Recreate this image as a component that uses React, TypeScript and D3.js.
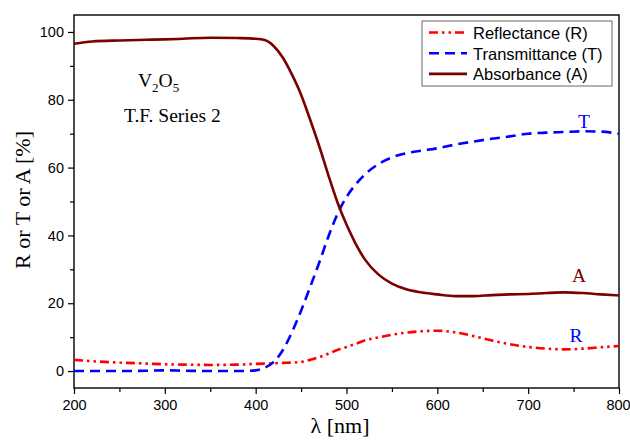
import React, { useEffect, useRef } from 'react';
import * as d3 from 'd3';

// wavelength grid [nm]
const lambda = [200, 220, 250, 280, 300, 320, 350, 380, 400, 410, 420, 430, 440, 450, 460, 470, 480, 490, 500, 510, 520, 535, 550, 565, 580, 600, 620, 640, 660, 680, 700, 720, 740, 760, 780, 800];

// values in %
const reflectance = [3.3, 2.9, 2.5, 2.2, 2.0, 1.9, 1.8, 1.9, 2.1, 2.2, 2.3, 2.4, 2.5, 2.7, 3.3, 4.1, 5.1, 6.2, 7.1, 8.0, 9.0, 9.9, 10.7, 11.3, 11.7, 11.9, 11.4, 10.3, 9.0, 7.9, 7.1, 6.6, 6.4, 6.6, 7.0, 7.4];
const transmittance = [0, 0, 0, 0.1, 0.2, 0.1, 0, 0, 0.2, 1.0, 2.7, 6.2, 11.5, 17.8, 24.8, 32.0, 39.6, 46.3, 51.3, 55.0, 57.9, 61.0, 63.0, 64.2, 64.9, 65.7, 66.8, 67.7, 68.5, 69.2, 70.0, 70.3, 70.5, 70.7, 70.6, 70.0];
const absorbance = [96.5, 97.2, 97.5, 97.7, 97.8, 98.0, 98.3, 98.2, 98.0, 97.6, 95.8, 92.4, 87.4, 81.5, 74.1, 66.3, 57.8, 49.8, 43.2, 37.6, 33.0, 28.5, 25.8, 24.2, 23.3, 22.6, 22.1, 22.1, 22.4, 22.6, 22.7, 23.0, 23.2, 23.0, 22.6, 22.3];

const xTicks = [200, 300, 400, 500, 600, 700, 800];
const xMinor = [250, 350, 450, 550, 650, 750];
const yTicks = [0, 20, 40, 60, 80, 100];
const yMinor = [10, 30, 50, 70, 90];

const seriesNames = ['Reflectance (R)', 'Transmittance (T)', 'Absorbance (A)'];

export default function App() {
  const ref = useRef<SVGSVGElement>(null);

  useEffect(() => {
    const svg = d3.select(ref.current);
    svg.selectAll('*').remove();

    const left = 74, right = 619, top = 15, bottom = 388;
    const x = d3.scaleLinear().domain([200, 800]).range([left, right]);
    const y = d3.scaleLinear().domain([-5, 105]).range([bottom, top]);

    const sansFont = '"Liberation Sans", Arial, sans-serif';
    const serifFont = '"Liberation Serif", "Times New Roman", serif';

    // axes
    const gx = svg.append('g').attr('transform', `translate(0,${bottom})`)
      .call(d3.axisBottom(x).tickValues(xTicks).tickSize(6).tickPadding(6).tickSizeOuter(0).tickFormat(d3.format('d')));
    svg.append('g').attr('transform', `translate(0,${bottom})`)
      .call(d3.axisBottom(x).tickValues(xMinor).tickSize(4).tickSizeOuter(0).tickFormat(() => ''));
    const gy = svg.append('g').attr('transform', `translate(${left},0)`)
      .call(d3.axisLeft(y).tickValues(yTicks).tickSize(6).tickPadding(4).tickSizeOuter(0));
    svg.append('g').attr('transform', `translate(${left},0)`)
      .call(d3.axisLeft(y).tickValues(yMinor).tickSize(4).tickSizeOuter(0).tickFormat(() => ''));

    svg.selectAll('.domain').remove();
    svg.selectAll('.tick line').attr('stroke', '#000').attr('stroke-width', 1.2);
    [gx, gy].forEach(g => g.selectAll('text')
      .attr('font-family', sansFont).attr('font-size', 14.5).attr('fill', '#000'));
    // keep the last x label inside the picture
    gx.selectAll('text').filter(d => d === 800).attr('dx', -1);

    // frame
    svg.append('rect')
      .attr('x', left).attr('y', top).attr('width', right - left).attr('height', bottom - top)
      .attr('fill', 'none').attr('stroke', '#000').attr('stroke-width', 1.4);

    const series = [
      { v: reflectance, color: '#ff0000', dash: '9,4,2.5,4,2.5,4' },
      { v: transmittance, color: '#0000ff', dash: '10,6' },
      { v: absorbance, color: '#7b0000', dash: null },
    ];

    const line = d3.line<number>()
      .x((d, i) => x(lambda[i]))
      .y(d => y(d))
      .curve(d3.curveMonotoneX);

    series.forEach(s => {
      const p = svg.append('path')
        .attr('d', line(s.v))
        .attr('fill', 'none')
        .attr('stroke', s.color)
        .attr('stroke-width', 2.6);
      if (s.dash) p.attr('stroke-dasharray', s.dash);
    });

    // legend
    const lg = svg.append('g');
    lg.append('rect').attr('x', 422).attr('y', 21).attr('width', 190).attr('height', 65)
      .attr('fill', '#fff').attr('stroke', '#666').attr('stroke-width', 1);
    series.forEach((s, i) => {
      const cy = 32.5 + i * 20.7;
      const l = lg.append('line').attr('x1', 429).attr('x2', 467).attr('y1', cy).attr('y2', cy)
        .attr('stroke', s.color).attr('stroke-width', 2.6);
      if (s.dash) l.attr('stroke-dasharray', s.dash);
      lg.append('text').attr('x', 473).attr('y', cy + 6.5)
        .attr('font-family', sansFont).attr('font-size', 16.5).attr('fill', '#000')
        .text(seriesNames[i]);
    });

    // axis titles
    svg.append('text')
      .attr('transform', 'translate(30,200) rotate(-90)')
      .attr('text-anchor', 'middle')
      .attr('font-family', serifFont).attr('font-size', 22).attr('fill', '#000')
      .text('R or T or A [%]');
    svg.append('text')
      .attr('x', 340).attr('y', 433)
      .attr('text-anchor', 'middle')
      .attr('font-family', serifFont).attr('font-size', 22).attr('fill', '#000')
      .text('λ [nm]');

    // annotations
    const v2o5 = svg.append('text').attr('x', 138).attr('y', 87)
      .attr('font-family', serifFont).attr('font-size', 19.5).attr('fill', '#000');
    v2o5.append('tspan').text('V');
    v2o5.append('tspan').attr('dy', 5).attr('font-size', 13).text('2');
    v2o5.append('tspan').attr('dy', -5).text('O');
    v2o5.append('tspan').attr('dy', 5).attr('font-size', 13).text('5');

    svg.append('text').attr('x', 124).attr('y', 122)
      .attr('font-family', serifFont).attr('font-size', 19.5).attr('fill', '#000')
      .text('T.F. Series 2');

    const marks = [
      { t: 'T', x: 584, y: 128, c: '#0000ff' },
      { t: 'A', x: 579, y: 282, c: '#7b0000' },
      { t: 'R', x: 576, y: 342, c: '#0000ff' },
    ];
    marks.forEach(m => svg.append('text').attr('x', m.x).attr('y', m.y)
      .attr('text-anchor', 'middle')
      .attr('font-family', serifFont).attr('font-size', 19.5).attr('fill', m.c)
      .text(m.t));
  }, []);

  return (
    <svg ref={ref} width={630} height={441}
      style={{ position: 'absolute', left: 0, top: 0, background: '#fff' }} />
  );
}
